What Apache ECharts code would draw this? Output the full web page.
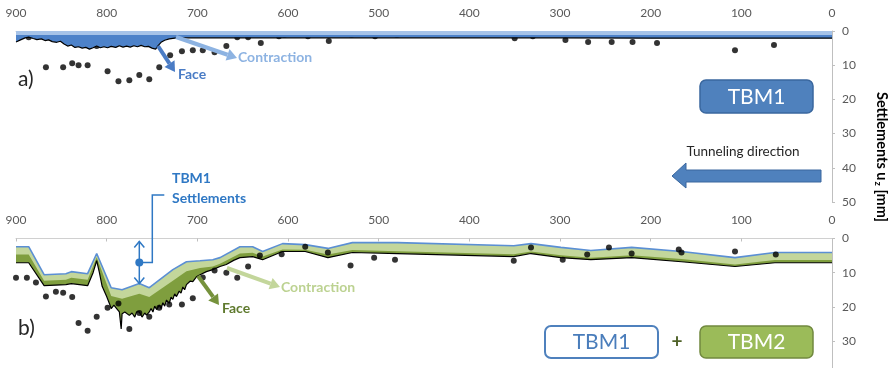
<!DOCTYPE html>
<html>
<head>
<meta charset="utf-8">
<script src="https://cdn.jsdelivr.net/npm/echarts@6/dist/echarts.min.js"></script>
<style>
  html, body { margin: 0; padding: 0; background: #fff; }
  #c { width: 895px; height: 368px; }
</style>
</head>
<body>
<div id="c"></div>
<script>
// ---- axis ticks ----
const xTickLabels = [900, 800, 700, 600, 500, 400, 300, 200, 100, 0];
const topTickLabels = [0, 10, 20, 30, 40, 50];
const bottomTickLabels = [0, 10, 20, 30];

// ---- panel a) : TBM1 alone ----
// total settlement of TBM1 (face + contraction), black line
const aTotalX = [900,895,890,886,881,877,872,868,864,860,855,851,847,843,839,835,831,827,823,819,
                 815,811,807,803,799,795,790,786,782,778,774,770,766,762,758,754,750,746,743,740,
                 736,731,725,715,700,650,600,500,400,300,200,100,0];
const aTotalY = [3.2,2.6,2.0,1.8,2.2,2.5,2.3,2.8,2.6,3.1,3.3,3.0,3.8,4.4,4.1,4.8,4.6,5.0,4.8,5.3,
                 4.9,4.4,4.9,4.6,4.9,4.5,4.8,4.3,4.7,4.4,4.7,4.3,4.6,4.2,4.6,4.5,5.0,5.3,4.2,3.3,
                 2.7,2.3,2.1,2.0,2.0,2.0,2.0,2.0,2.0,2.0,2.1,2.1,2.1];
// contraction share of TBM1 settlement
const aContrX = [900, 0];
const aContrY = [1.15, 1.15];
// measured settlements after TBM1
const aPointsX = [886,867,848,838,831,821,811,799,787,775,764,753,742,730,717,705,694,681,668,656,
                  644,630,610,604,578,555,530,504,480,350,330,294,269,243,220,193,107,64];
const aPointsY = [1.8,10.6,10.6,9.4,10,10,4.4,11.8,14.7,14.4,12.9,14.1,10.6,7.1,5.9,5.6,5.6,6.2,4.4,1.8,
                  1.8,3.5,1.5,1.2,1.5,2.9,1.2,1.5,1.2,2.1,1.5,2.6,3.2,3.2,3.2,3.5,5.6,4.1];

// ---- panel b) : TBM1 + TBM2 ----
const bX      = [900,886,869,845,839,821,811,795,783,764,753,727,712,697,683,675,653,639,628,606,
                 581,556,529,479,351,332,299,266,221,166,107,63,0];
// TBM1 settlement (blue line)
const bTbm1   = [2.4,2.4,10.6,10.3,9.7,10.3,4.4,14.4,15.0,13.2,14.4,9.1,6.8,6.5,6.2,5.6,2.4,2.4,3.8,1.5,
                 1.8,2.9,1.2,1.2,2.1,1.5,2.6,3.5,2.6,3.8,5.6,4.1,4.1];
// TBM1 + contraction of TBM2
const bContr  = [4.7,4.7,12.4,12.1,11.5,12.1,5.5,16.8,17.6,16.2,17.1,12.4,9.6,8.6,8.2,7.4,4.4,4.2,5.3,3.2,
                 3.3,4.7,3.4,3.7,4.6,3.8,4.9,5.6,4.9,6.0,7.6,6.3,6.3];
// total settlement (black line, includes face losses of TBM2)
const bTotalX = [900,886,869,845,839,821,815,811,808,805,800,797,795,792,789,786,784,783,780,778,
                 775,772,769,767,764,761,758,756,753,751,749,747,745,742,740,738,736,734,731,729,
                 727,725,723,720,718,716,714,712,710,708,705,701,697,690,683,675,668,660,653,639,
                 628,606,581,556,529,479,351,332,299,266,221,166,107,63,0];
const bTotalY = [7.1,7.1,13.8,13.5,13.2,13.8,10,6.5,10,14,17,19,20.5,19.5,20.5,21.5,26.5,22,21.5,21,
                 22.5,21.8,23,21.5,21.5,23,21.8,22.4,21.5,20.5,21.5,19.8,20.8,19.5,20.5,18.8,19.8,18,19,17.2,
                 17.8,16.2,17,15.4,16,14.2,15,13.5,14,12.5,12.6,11.2,10.6,9.7,9.1,8.2,7.6,6.4,5.6,5.3,
                 6.2,3.8,3.8,5.6,4.1,4.4,5.3,4.4,5.6,6.2,5.6,6.8,8.2,7.1,7.1];
// measured settlements after TBM2
const bPointsX = [900,888,878,867,856,848,838,831,821,811,799,787,775,764,753,742,731,717,705,694,
                  681,668,656,644,631,607,581,556,531,505,482,351,332,297,270,246,221,169,166,107,62];
const bPointsY = [11.5,11.5,12.9,17,15.6,15.9,17.1,24.7,27,22.9,20.3,19,26.5,21.8,22.9,20.3,19.3,19.3,17.5,11.4,
                  9.4,10,11.5,8.2,5,4.6,2.4,4.1,7.9,5.6,6.2,6.5,2.6,6.2,4.7,2.6,4.4,3.2,4.1,3.8,4.7];

// chainage at which the TBM1 settlement is dimensioned in panel b)
const dimChainage = 764;

const zip = (xs, ys) => xs.map((x, i) => [x, ys[i]]);
const FONT = 'Lato';
const AXIS = '#bfbfbf';
const LABEL = '#595959';

function xAxisCfg(gridIndex, z) {
  return {
    type: 'value', gridIndex, position: 'top', inverse: true, z,
    min: xTickLabels[xTickLabels.length - 1], max: xTickLabels[0],
    interval: xTickLabels[0] - xTickLabels[1],
    axisLine: { show: true, lineStyle: { color: '#d0d0d0' } },
    axisTick: { show: true, length: 3, inside: true, lineStyle: { color: AXIS } },
    axisLabel: { color: LABEL, fontFamily: FONT, fontSize: 12, margin: 12 },
    splitLine: { show: false }
  };
}
function yAxisCfg(gridIndex, ticks, max, showMax) {
  return {
    type: 'value', gridIndex, position: 'right', inverse: true,
    min: ticks[0], max, interval: ticks[1] - ticks[0],
    axisLine: { show: true, lineStyle: { color: AXIS } },
    axisTick: { show: true, length: 3, lineStyle: { color: AXIS } },
    axisLabel: { color: LABEL, fontFamily: FONT, fontSize: 12, margin: 10, showMaxLabel: showMax },
    splitLine: { show: false }
  };
}

const chart = echarts.init(document.getElementById('c'), null, { renderer: 'canvas' });

chart.setOption({
  animation: false,
  backgroundColor: '#fff',
  grid: [
    { left: 16, right: 63, top: 31, height: 171 },
    { left: 16, right: 63, top: 238.5, bottom: 0 }
  ],
  xAxis: [xAxisCfg(0, 0), xAxisCfg(1, 5)],
  yAxis: [
    yAxisCfg(0, topTickLabels, topTickLabels[topTickLabels.length - 1], true),
    yAxisCfg(1, bottomTickLabels, 37.9, false)
  ],
  series: [
    // panel a)
    { type: 'line', xAxisIndex: 0, yAxisIndex: 0, data: zip(aTotalX, aTotalY), symbol: 'none',
      lineStyle: { color: '#000', width: 1.2 }, areaStyle: { color: '#4d82c9', opacity: 1 } },
    { type: 'line', xAxisIndex: 0, yAxisIndex: 0, data: zip(aContrX, aContrY), symbol: 'none',
      lineStyle: { width: 0 }, areaStyle: { color: '#a6c3e8', opacity: 1 } },
    { type: 'scatter', xAxisIndex: 0, yAxisIndex: 0, data: zip(aPointsX, aPointsY),
      symbolSize: 6, itemStyle: { color: '#000' } },
    // panel b)
    { type: 'line', xAxisIndex: 1, yAxisIndex: 1, data: zip(bTotalX, bTotalY), symbol: 'none',
      lineStyle: { color: '#000', width: 1.2 }, areaStyle: { color: '#7f9e3e', opacity: 1 } },
    { type: 'line', xAxisIndex: 1, yAxisIndex: 1, data: zip(bX, bContr), symbol: 'none',
      lineStyle: { width: 0 }, areaStyle: { color: '#c3d69b', opacity: 1 } },
    { type: 'line', xAxisIndex: 1, yAxisIndex: 1, data: zip(bX, bTbm1), symbol: 'none',
      lineStyle: { color: '#5b8fd4', width: 1.6 }, areaStyle: { color: '#fff', opacity: 1 } },
    { type: 'scatter', xAxisIndex: 1, yAxisIndex: 1, data: zip(bPointsX, bPointsY),
      symbolSize: 6, itemStyle: { color: '#000' }, z: 4 }
  ]
});

// ---- annotations ----
function arrow(x1, y1, x2, y2, color, width, headLen, headW) {
  const ang = Math.atan2(y2 - y1, x2 - x1);
  const bx = x2 - headLen * Math.cos(ang), by = y2 - headLen * Math.sin(ang);
  const nx = -Math.sin(ang) * headW / 2, ny = Math.cos(ang) * headW / 2;
  return [
    { type: 'line', silent: true, z: 20, shape: { x1, y1, x2: bx, y2: by },
      style: { stroke: color, lineWidth: width } },
    { type: 'polygon', silent: true, z: 20,
      shape: { points: [[x2, y2], [bx + nx, by + ny], [bx - nx, by - ny]] },
      style: { fill: color } }
  ];
}
function label(x, y, text, color, size, weight, align) {
  return { type: 'text', silent: true, z: 21, x, y,
    style: { text, fill: color, fontFamily: FONT, fontSize: size, fontWeight: weight || 'normal',
             align: align || 'left', verticalAlign: 'middle' } };
}

const g = [];
// panel a) labels and arrows
g.push(...arrow(158, 46, 175, 72, '#4a7cc5', 4, 10, 12));
g.push(label(178, 74, 'Face', '#4a7cc5', 14, 'bold'));
g.push(...arrow(176, 37, 237, 58, '#8db3e2', 4, 10, 12));
g.push(label(238, 57, 'Contraction', '#8db3e2', 14, 'bold'));
g.push(label(18, 79, 'a)', '#262626', 21));
g.push({ type: 'rect', silent: true, z: 20, shape: { x: 700, y: 80, width: 113, height: 33, r: 6 },
  style: { fill: '#4f81bd', stroke: '#3a679e', lineWidth: 1.5 } });
g.push(label(756.5, 97, 'TBM1', '#fff', 21, 'normal', 'center'));
g.push(label(743, 152, 'Tunneling direction', '#262626', 13.5, 'normal', 'center'));
g.push({ type: 'polygon', silent: true, z: 20,
  shape: { points: [[821, 170], [686, 170], [686, 163], [672, 176], [686, 188], [686, 182], [821, 182]] },
  style: { fill: '#4f81bd', stroke: '#3a679e', lineWidth: 1 } });

// panel b) labels and arrows
g.push(...arrow(227, 268, 280, 287, '#c3d69b', 4, 10, 12));
g.push(label(281, 287, 'Contraction', '#bcd291', 14, 'bold'));
g.push(...arrow(198, 276, 219, 305, '#76923c', 4, 10, 12));
g.push(label(222, 308, 'Face', '#5f7a2e', 14, 'bold'));
g.push(label(18, 328, 'b)', '#262626', 21));
g.push({ type: 'rect', silent: true, z: 20, shape: { x: 545, y: 326, width: 113, height: 32, r: 6 },
  style: { fill: '#fff', stroke: '#4f81bd', lineWidth: 2 } });
g.push(label(601.5, 342.5, 'TBM1', '#4a7dbb', 21, 'normal', 'center'));
g.push(label(677, 342, '+', '#4f6228', 19, 'bold', 'center'));
g.push({ type: 'rect', silent: true, z: 20, shape: { x: 700, y: 326, width: 113, height: 32, r: 6 },
  style: { fill: '#9bbb59', stroke: '#71893f', lineWidth: 1.5 } });
g.push(label(756.5, 342.5, 'TBM2', '#fff', 21, 'normal', 'center'));

// TBM1 settlement dimension in panel b): from the axis down to the blue line
const dimIdx = bX.indexOf(dimChainage);
const pTop = chart.convertToPixel({ gridIndex: 1 }, [dimChainage, 0]);
const pBot = chart.convertToPixel({ gridIndex: 1 }, [dimChainage, bTbm1[dimIdx]]);
const BLUE = '#2f78c4';
const dx = pTop[0], yA = pTop[1] + 3, yB = pBot[1], yM = (yA + yB) / 2;
g.push({ type: 'line', silent: true, z: 20, shape: { x1: dx, y1: yA, x2: dx, y2: yB },
  style: { stroke: BLUE, lineWidth: 1.5 } });
g.push({ type: 'polyline', silent: true, z: 20, shape: { points: [[dx - 5, yA + 6], [dx, yA], [dx + 5, yA + 6]] },
  style: { stroke: BLUE, lineWidth: 1.5, fill: null } });
g.push({ type: 'polyline', silent: true, z: 20, shape: { points: [[dx - 5, yB - 6], [dx, yB], [dx + 5, yB - 6]] },
  style: { stroke: BLUE, lineWidth: 1.5, fill: null } });
g.push({ type: 'circle', silent: true, z: 21, shape: { cx: dx, cy: yM, r: 4 }, style: { fill: BLUE } });
g.push({ type: 'polyline', silent: true, z: 20,
  shape: { points: [[dx, yM], [dx + 13, yM], [dx + 13, 195], [dx + 25, 195]] },
  style: { stroke: BLUE, lineWidth: 1.5, fill: null } });
g.push({ type: 'text', silent: true, z: 21, x: 172, y: 188,
  style: { text: 'TBM1\nSettlements', fill: BLUE, fontFamily: FONT, fontSize: 14, fontWeight: 'bold',
           lineHeight: 20, align: 'left', verticalAlign: 'middle' } });

// right-hand axis title
g.push({ type: 'text', silent: true, z: 21, x: 882, y: 157, rotation: -Math.PI / 2,
  style: {
    text: '{a|Settlements u}{s|z}{a| [mm]}',
    align: 'center', verticalAlign: 'middle',
    rich: {
      a: { fontFamily: FONT, fontSize: 14.5, fontWeight: 'bold', fill: '#000', lineHeight: 20 },
      s: { fontFamily: FONT, fontSize: 9.5, fontWeight: 'bold', fill: '#000', lineHeight: 20, padding: [7, 0, 0, 1] }
    }
  } });

chart.setOption({ graphic: g });
</script>
</body>
</html>
